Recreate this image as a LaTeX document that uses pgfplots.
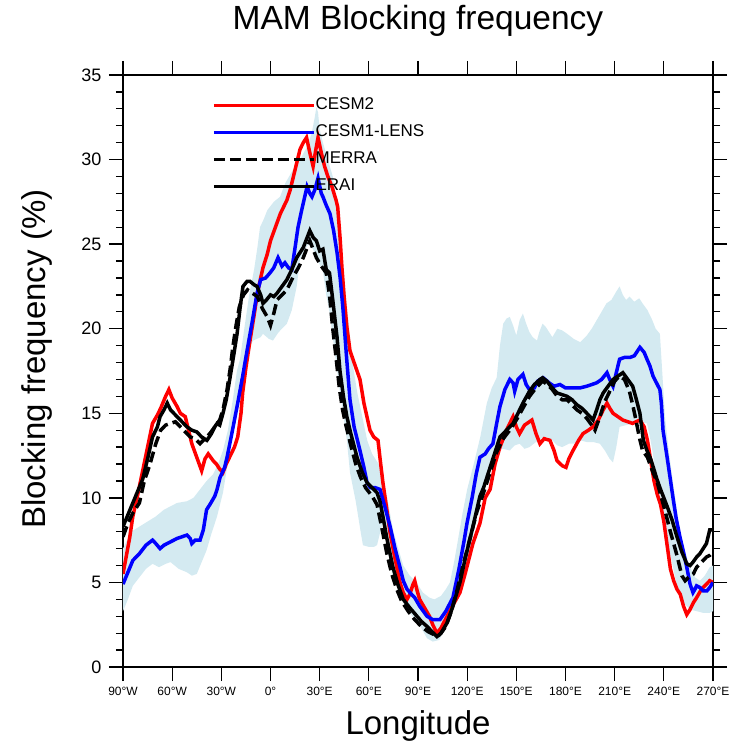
\documentclass[border=0pt]{standalone}
\usepackage{fontspec}
\setmainfont{Liberation Sans}
\usepackage{pgfplots}
\pgfplotsset{compat=1.18}
\usepgfplotslibrary{fillbetween}
\definecolor{bandcol}{RGB}{212,234,241}
\begin{document}
\begin{tikzpicture}
\begin{axis}[
 at={(0pt,0pt)}, anchor=south west,
 scale only axis, width=590pt, height=592pt,
 xmin=-90, xmax=270, ymin=0, ymax=35,
 xtick={-90,-60,...,270},
 xticklabels={90°W,60°W,30°W,0°,30°E,60°E,90°E,120°E,150°E,180°E,210°E,240°E,270°E},
 ytick={0,5,...,35},
 minor ytick={0,1,...,35},
 tick align=outside,
 major tick length=14pt, minor tick length=7pt,
 tick style={line width=1.3pt, black},
 axis line style={line width=1.5pt},
 xticklabel style={font=\fontsize{12}{12}\selectfont, yshift=-3pt},
 yticklabel style={font=\fontsize{18}{18}\selectfont, xshift=-4pt},
 /pgf/number format/assume math mode=true,
 title={MAM Blocking frequency},
 title style={font=\fontsize{33.5}{33.5}\selectfont, at={(axis description cs:0.5,1)}, anchor=base, yshift=39pt},
 xlabel={Longitude},
 ylabel={Blocking frequency (\%)},
 every axis x label/.style={at={(axis description cs:0.5,-0.10)}, anchor=center, font=\fontsize{33}{33}\selectfont},
 every axis y label/.style={at={(axis description cs:-0.146,0.52)}, rotate=90, anchor=center, font=\fontsize{33}{33}\selectfont},
 legend style={at={(rel axis cs:0.151,0.963)}, anchor=north west, draw=none, fill=none,
   font=\fontsize{17}{17}\selectfont, inner sep=0pt, outer sep=0pt, row sep=10pt,
   nodes={inner sep=0pt, text height=13pt, text depth=4pt, anchor=west},
   /tikz/every even column/.style={column sep=4pt}},
 legend cell align=left,
 legend image code/.code={\draw[#1] (0pt,0pt) -- (100pt,0pt);},
]
% ensemble band
\addplot[draw=none, name path=up, forget plot] coordinates {
(-90,7.0)(-85,8.0)(-80,8.3)(-75,8.6)(-70,8.9)(-65,9.3)(-61,9.5)(-57,9.7)(-51,9.8)(-47,10.0)(-43,10.5)(-39,11.0)(-35,11.4)(-32,12.0)(-29,12.8)(-26,14.0)(-23,15.8)(-20.5,17.5)(-18.6,18.2)(-16,20.0)(-13,22.0)(-10,23.5)(-8,24.8)(-6.4,26.0)(-4,26.5)(-2,27.0)(2,27.5)(5.8,27.8)(9,28.6)(13.7,29.4)(18,30.0)(22,30.7)(25,31.5)(27,32.5)(28,33.1)(29,32.8)(30,31.8)(32,31.0)(35,30.0)(38,29.0)(40.6,27.4)(42,26.0)(44,24.0)(46,22.0)(48,20.0)(50,18.0)(53,16.2)(56,14.8)(59,13.4)(62,12.6)(66,12.0)(69,11.0)(72,9.6)(75,8.0)(78,7.0)(81,6.0)(85,5.4)(89,5.0)(93,4.4)(97,4.1)(100,4.0)(104,4.2)(107,4.6)(109.5,5.0)(112,6.2)(114,7.3)(117,9.0)(120,10.5)(124,12.0)(128,13.6)(132,15.6)(135,16.5)(138,17.1)(140,19.0)(142,20.3)(144,20.6)(146,20.7)(148,20.2)(150,19.6)(152,20.5)(154,20.9)(156,20.3)(158,19.8)(160,19.5)(162.6,19.3)(164,19.8)(166,20.3)(168,20.1)(170,19.8)(172,19.5)(175,20.0)(178,19.9)(181,19.7)(185,19.4)(189,19.2)(193,19.6)(196,20.0)(199,20.5)(202,21.0)(205,21.5)(208,21.7)(211,22.2)(213,22.5)(215,22.0)(217,21.7)(219,21.9)(222,21.6)(225,21.8)(227,21.5)(230,21.1)(233,20.5)(235,20.0)(237.6,19.7)(239,17.5)(240.7,14.8)(243,12.8)(245.6,10.9)(248,9.3)(250,7.9)(253,6.8)(256,5.9)(259,5.3)(262,5.1)(265,5.4)(268,5.9)(270,6.0)
};
\addplot[draw=none, name path=lo, forget plot] coordinates {
(-90,3.3)(-87,4.0)(-84,4.8)(-80,5.3)(-76,5.8)(-72,6.1)(-68,5.9)(-64,6.1)(-61,6.2)(-56,5.8)(-51,5.6)(-48,5.4)(-45,5.5)(-42,6.2)(-39,6.9)(-36,7.9)(-32.6,8.9)(-29,10.3)(-26.5,11.8)(-23,14.0)(-20.4,15.8)(-18,17.5)(-15,18.5)(-10.6,19.3)(-6,19.5)(-4.6,19.7)(-1,19.4)(1.5,19.3)(5,19.8)(10,20.3)(13,21.1)(16,22.5)(18,24.1)(20,24.5)(23,25.0)(26,24.7)(29,24.0)(32,23.4)(34,22.0)(36,21.0)(38,19.5)(40,18.0)(42,16.5)(44,15.2)(46.6,13.4)(48.5,11.5)(52,9.8)(55,8.0)(56.4,7.2)(60,7.1)(63,7.1)(65,7.2)(67,8.0)(68.5,8.5)(71,7.2)(74,5.6)(78,4.5)(81,3.8)(85,3.2)(89,2.7)(92,2.3)(95.5,1.7)(99,1.5)(103,1.6)(106,2.2)(109.5,3.0)(112,3.6)(115.6,4.4)(119,5.9)(123.5,7.7)(127,9.5)(130,10.9)(133,11.6)(136,12.5)(138,12.8)(142,12.9)(146,12.8)(149,13.1)(152,13.2)(155,12.9)(158,13.0)(162,13.3)(165,13.5)(168.7,13.6)(172,13.4)(175,13.1)(178,13.0)(182,13.2)(185,13.2)(189,13.4)(193,13.3)(197,13.3)(201,13.2)(204,12.8)(207,12.3)(209,12.1)(211,13.0)(213,14.2)(217,14.3)(221,14.4)(225,14.5)(229.7,14.4)(231.5,13.6)(233,12.8)(236,10.8)(239.5,8.9)(242,7.5)(245.6,5.9)(248,4.8)(249.8,4.1)(252,3.8)(256,3.4)(260,3.3)(264,3.2)(268,3.2)(270,3.3)
};
\addplot[bandcol, forget plot] fill between[of=up and lo];
% CESM2
\addplot[red, line width=3.5pt] coordinates {
(-90,5.5)(-86,7.6)(-84,8.9)(-81,10.2)(-78,11.6)(-75,13.0)(-72,14.4)(-69,14.9)(-67,15.3)(-64,16.0)(-62,16.4)(-60,15.9)(-57,15.4)(-55,15.0)(-52,14.8)(-50,14.0)(-48,13.2)(-45,12.4)(-42,11.6)(-40,12.3)(-38,12.6)(-35,12.2)(-33,12.0)(-31,11.7)(-29,11.5)(-27,12.0)(-25,12.4)(-22,13.0)(-20,13.6)(-18,15.0)(-17,16.2)(-15,17.7)(-12.5,19.3)(-10,20.8)(-8,22.1)(-6,23.0)(-4.6,23.6)(-2,24.4)(0,25.2)(3,26.0)(6,26.8)(10,27.6)(12,28.2)(14,29.0)(16,29.8)(18,30.6)(20,31.0)(22,31.3)(24,30.4)(26,29.6)(27.5,30.5)(29,31.3)(31,30.4)(33,29.6)(35,29.0)(37.5,28.4)(40,27.6)(41,27.2)(42.5,25.3)(43.6,23.6)(45,21.8)(46.6,20.1)(48.5,18.7)(51,18.0)(54.6,17.0)(57,15.6)(60.7,14.0)(63,13.6)(65.6,13.4)(67,12.2)(68.6,10.9)(71,9.3)(73,7.9)(76,6.4)(79,5.0)(81,4.4)(83.3,4.0)(85,4.3)(87,4.9)(88,5.1)(89.5,4.5)(91,4.0)(94,3.5)(97,3.0)(99,2.5)(101.6,2.0)(104,2.3)(107.7,3.0)(111,3.6)(115.6,4.4)(119,5.6)(123.5,7.3)(127.8,8.5)(131,10.0)(134,10.5)(137,12.0)(140,13.0)(144,14.0)(148,14.8)(150,14.2)(152,13.8)(155,14.3)(159.5,14.6)(162,13.8)(164.4,13.2)(167,13.5)(170.5,13.4)(173,12.8)(174.8,12.2)(178,11.9)(180.3,11.8)(182,12.3)(184.6,12.8)(188,13.4)(190.7,13.8)(194,14.0)(196.8,14.2)(200,14.6)(203,15.2)(205.3,15.6)(207,15.3)(209,15.0)(212,14.8)(215,14.6)(218,14.5)(221,14.4)(223,14.5)(225.4,14.6)(228,14.2)(230,13.4)(232,12.2)(234,11.0)(236,10.2)(238,9.6)(240,8.6)(242,7.2)(244,5.8)(246,5.1)(248,4.6)(250,4.3)(252,3.6)(254,3.1)(256,3.4)(258,3.8)(260,4.1)(263,4.6)(265,4.8)(268,5.1)(270,5.0)
};
\addlegendentry{CESM2}
% CESM1-LENS
\addplot[blue, line width=3.5pt] coordinates {
(-90,4.9)(-87,5.6)(-84,6.3)(-80,6.7)(-76,7.2)(-72,7.5)(-70,7.3)(-67.4,7.0)(-65,7.2)(-61,7.4)(-57,7.6)(-54,7.7)(-51,7.8)(-49,7.6)(-48,7.3)(-46,7.5)(-43,7.5)(-41,8.1)(-39,9.3)(-37,9.6)(-34,10.1)(-32.6,10.5)(-30.8,11.2)(-28,11.8)(-26.5,12.4)(-24,13.6)(-22,14.6)(-20,15.6)(-17,17.2)(-14.3,18.7)(-11,20.5)(-8.2,22.1)(-6,22.9)(-3,23.0)(-0.3,23.3)(2,23.6)(4.6,24.2)(7,23.7)(8.8,23.9)(11,23.6)(13,23.5)(15,24.8)(16.8,26.0)(19,27.0)(22.3,28.4)(24,28.0)(25.3,27.8)(27,28.2)(29,28.9)(31,28.0)(32,27.8)(34,27.3)(36.3,26.8)(38.5,25.8)(40.6,24.5)(42.5,23.0)(44.2,21.2)(46.5,18.2)(48.5,15.8)(51,14.2)(54.6,12.8)(57,11.8)(58.9,10.9)(61,10.6)(64,10.6)(66.8,10.5)(70,9.4)(73,8.3)(76,7.0)(79,5.9)(81,5.1)(83.3,4.6)(86,4.3)(88,4.1)(91,3.6)(95.5,3.0)(99,2.8)(103.4,2.8)(107,3.3)(111.3,4.1)(115,5.8)(118,7.4)(119.9,8.5)(123,10.0)(125.5,11.4)(127.8,12.4)(131,12.6)(133,12.9)(135.7,13.2)(138,14.4)(140,15.4)(143,16.4)(146,17.0)(148,16.8)(149,16.3)(151,17.0)(154,17.3)(156,16.7)(158,16.4)(161,16.5)(163,16.9)(166.3,17.1)(170,16.8)(173,16.6)(176.6,16.7)(180,16.5)(184,16.5)(188.8,16.5)(193,16.6)(199,16.8)(202,17.0)(205.3,17.4)(207,17.0)(209,16.6)(211,17.4)(213,18.2)(216,18.3)(219.3,18.3)(222,18.4)(225.4,18.9)(228,18.6)(229.7,18.2)(231.5,17.8)(233.4,17.2)(235.5,16.8)(237.6,16.4)(238.5,15.6)(239.5,14.0)(242,12.4)(245.6,10.0)(247.5,8.8)(249.8,7.7)(252,6.8)(254,5.9)(256,4.9)(257.8,4.4)(259,4.6)(260,4.8)(262,4.7)(264,4.5)(266.3,4.5)(268,4.7)(270,5.0)
};
\addlegendentry{CESM1-LENS}
% MERRA
\addplot[black, line width=3.5pt, dash pattern=on 11pt off 5pt] coordinates {
(-90,7.7)(-87,8.5)(-84,9.1)(-80,9.7)(-77,11.0)(-73.5,12.0)(-70,13.2)(-67,14.0)(-64,14.3)(-61,14.4)(-58,14.5)(-55,14.2)(-52,13.9)(-49,13.6)(-46,13.5)(-43,13.2)(-40,13.5)(-37,13.8)(-34,14.2)(-31,14.6)(-29,15.2)(-26.5,16.4)(-24.5,17.7)(-23,18.9)(-21,20.2)(-19,21.3)(-16.5,22.0)(-14,22.3)(-11,22.1)(-8,21.9)(-5,21.2)(-2,20.7)(0,20.2)(2,20.9)(4,21.7)(7,22.0)(10,22.3)(12,22.7)(14,23.1)(17,23.6)(20,24.2)(22,24.7)(24,25.2)(26,24.7)(28,24.2)(31,23.7)(34,23.3)(36,22.0)(38,20.0)(40,18.3)(42,16.5)(44,15.2)(46,14.3)(49,13.1)(52,12.0)(55,11.2)(58,10.6)(62,10.1)(65,9.6)(68,8.2)(71,6.7)(74,5.5)(77,4.6)(80,3.9)(84,3.3)(88,2.8)(92,2.4)(96,2.1)(100,1.9)(102,1.8)(104,2.0)(107,2.4)(110,3.2)(114,4.6)(118,6.2)(122,7.7)(126,9.2)(130,10.3)(134,11.5)(138,12.7)(142,13.5)(146,14.0)(150,14.6)(154,15.3)(158,16.0)(162,16.5)(166,16.9)(169,16.7)(172,16.4)(175,16.0)(178,15.8)(181,15.8)(184,15.5)(187,15.2)(190,15.0)(193,14.7)(196,14.3)(198,14.0)(201,14.8)(204,15.7)(207,16.3)(210,16.9)(213,17.2)(216,17.0)(219,16.3)(221,15.5)(223,14.6)(225,13.6)(227,12.8)(230,12.4)(233,11.6)(236,10.9)(240,9.5)(244,8.0)(248,6.6)(251,5.4)(253,5.1)(255,5.3)(258,5.5)(260,5.9)(263,6.2)(266,6.5)(268,6.6)(270,6.8)
};
\addlegendentry{MERRA}
% ERAI
\addplot[black, line width=3.5pt] coordinates {
(-90,8.3)(-87,9.0)(-84,9.7)(-81,10.4)(-78,11.1)(-75,12.3)(-72,13.6)(-69,14.2)(-67.4,14.8)(-65,15.2)(-63,15.6)(-61,15.2)(-59,15.0)(-57,14.8)(-54,14.5)(-51,14.2)(-48,14.0)(-45,13.9)(-42,13.6)(-38.8,13.4)(-36,13.8)(-34,14.2)(-32.6,14.4)(-31,14.3)(-29,15.0)(-27,15.8)(-24.7,17.1)(-22.5,18.4)(-20.4,19.7)(-18.6,21.2)(-16.8,22.5)(-14.3,22.8)(-12.5,22.8)(-10,22.6)(-8.2,22.5)(-6,22.0)(-4.6,21.5)(-2.5,21.7)(0,22.0)(2,21.9)(4,22.1)(7,22.5)(10,22.9)(13,23.5)(16,24.2)(18,24.5)(20,24.8)(22,25.3)(24,25.8)(26,25.4)(28,25.2)(30,24.6)(32,24.7)(34,23.5)(36,23.3)(38,21.7)(40.6,19.5)(42.4,17.5)(44.5,16.0)(46.6,14.8)(49,13.8)(52.8,12.4)(56,11.5)(58.9,10.9)(62,10.6)(65,10.3)(66.8,9.8)(68.6,8.9)(71,7.6)(74.7,5.9)(78,4.8)(81,4.0)(85,3.5)(89.4,3.0)(92,2.7)(95.5,2.4)(98.5,2.1)(101.6,1.8)(104,2.0)(107.7,2.6)(111,3.5)(115.6,5.0)(119,6.5)(123.5,8.3)(127.8,10.1)(130,10.6)(134,11.8)(137,12.7)(140,13.6)(144,14.0)(148,14.4)(151,15.0)(154,15.6)(158,16.3)(161,16.7)(164.4,17.0)(166,17.1)(168.7,16.9)(171,16.6)(174.8,16.2)(178,16.1)(181,16.0)(184,15.8)(187,15.5)(190,15.3)(193,15.0)(195,14.8)(196.8,14.6)(199,15.2)(201,15.8)(203,16.2)(206,16.6)(209,17.0)(212,17.2)(215,17.4)(218,17.0)(221,16.6)(223,15.9)(225.4,15.0)(227.5,13.4)(229.7,12.8)(232,12.3)(235.8,11.1)(238,10.5)(242,9.5)(245,8.7)(248,7.7)(251,6.8)(254,6.1)(256,6.0)(257.8,6.2)(260,6.5)(262,6.7)(264,7.0)(266,7.3)(268,8.1)(270,8.1)
};
\addlegendentry{ERAI}
\end{axis}
\pgfresetboundingbox
\useasboundingbox (-123pt,-86pt) rectangle (612pt,667pt);
\end{tikzpicture}
\end{document}
